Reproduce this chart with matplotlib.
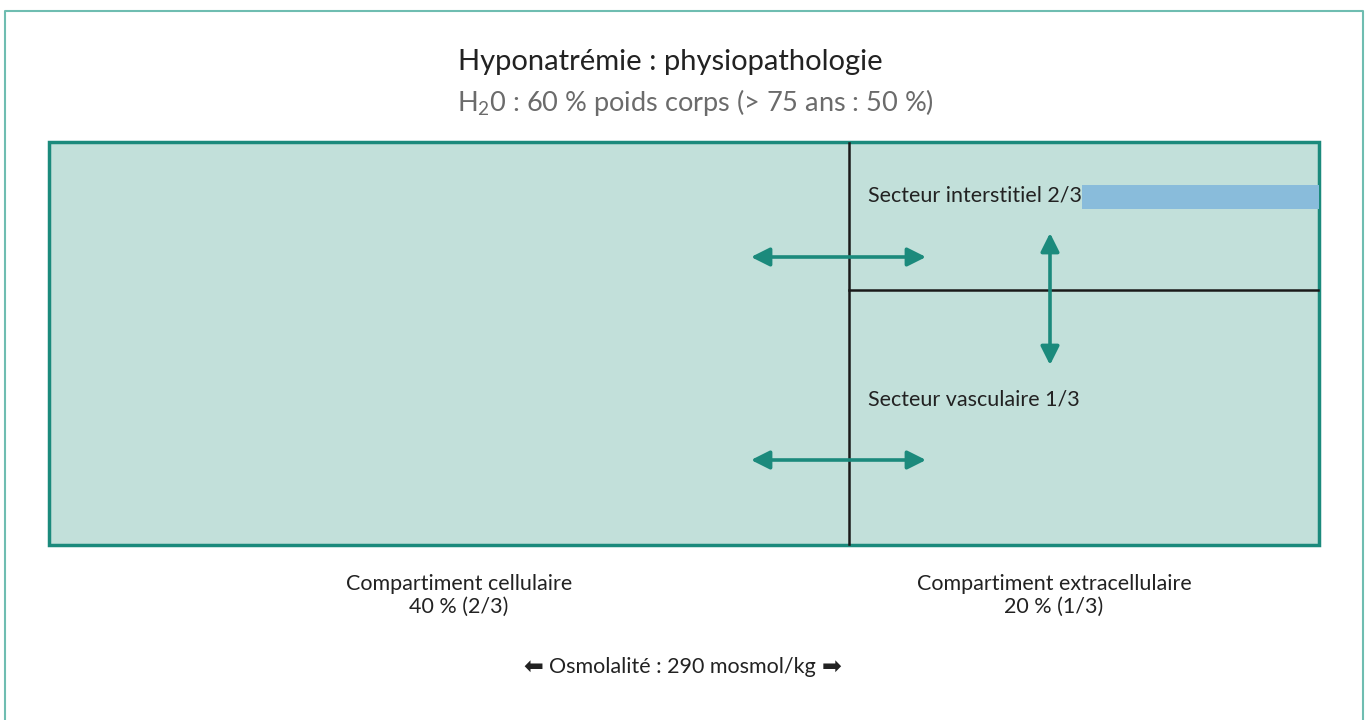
import matplotlib.pyplot as plt
from matplotlib.patches import Rectangle

# textes du schéma
title = "Hyponatrémie : physiopathologie"
subtitle = "H$_2$0 : 60 % poids corps (> 75 ans : 50 %)"
compartments = ["Compartiment cellulaire", "Compartiment extracellulaire"]
comp_shares = ["40 % (2/3)", "20 % (1/3)"]
sectors = ["Secteur interstitiel 2/3", "Secteur vasculaire 1/3"]
osmo = "Osmolalité : 290 mosmol/kg"

TEAL = "#1b8a7c"
FILL = "#c2e0da"
BLUE = "#89bcdb"
FONT = ["Lato", "DejaVu Sans"]
plt.rcParams['mathtext.fontset'] = 'custom'
plt.rcParams['mathtext.rm'] = 'Lato'

fig = plt.figure(figsize=(13.71, 7.2), dpi=100)
ax = fig.add_axes([0, 0, 1, 1])
ax.set_xlim(0, 1371)
ax.set_ylim(720, 0)
ax.axis('off')

# cadre extérieur
ax.plot([5, 5, 1363, 1363], [722, 11, 11, 722], color="#6fbdb1", lw=1.5)

# boîte principale
ax.add_patch(Rectangle((49, 142), 1270, 403, facecolor=FILL, edgecolor=TEAL, lw=2.5, zorder=1))
ax.add_patch(Rectangle((1082, 185), 237, 24, facecolor=BLUE, edgecolor='none', zorder=2))
ax.plot([849, 849], [143, 544], color="#1a1a1a", lw=1.8, zorder=3)
ax.plot([849, 1318], [290, 290], color="#1a1a1a", lw=1.8, zorder=3)

# flèches d'échange
arrow = dict(arrowstyle='<|-|>', color=TEAL, lw=2.6, mutation_scale=28, shrinkA=0, shrinkB=0)
for y in [257, 460]:
    ax.annotate('', xy=(751, y), xytext=(926, y), arrowprops=arrow, zorder=4)
ax.annotate('', xy=(1050, 233), xytext=(1050, 365), arrowprops=arrow, zorder=4)

# titres
ax.text(670, 62, title, ha='center', va='center', fontsize=21, color="#222222", family=FONT)
ax.text(695, 103, subtitle, ha='center', va='center', fontsize=19.5, color="#6b6b6b", family=FONT)

# étiquettes des secteurs
ax.text(868, 196, sectors[0], ha='left', va='center', fontsize=15.5, color="#222222", family=FONT, zorder=5)
ax.text(868, 400, sectors[1], ha='left', va='center', fontsize=15.5, color="#222222", family=FONT, zorder=5)

# étiquettes des compartiments
for cx, name, share in zip([459, 1054], compartments, comp_shares):
    ax.text(cx, 584, name, ha='center', va='center', fontsize=15.5, color="#222222", family=FONT)
    ax.text(cx, 607, share, ha='center', va='center', fontsize=15.5, color="#222222", family=FONT)

# osmolalité avec flèches pleines
ax.text(682, 667, osmo, ha='center', va='center', fontsize=15.5, color="#222222", family=FONT)
ax.text(543, 667, "\u2B05", ha='right', va='center', fontsize=17, color="#222222", family=["DejaVu Sans"])
ax.text(822, 667, "\u27A1", ha='left', va='center', fontsize=17, color="#222222", family=["DejaVu Sans"])

fig.savefig('out.png', dpi=100)
